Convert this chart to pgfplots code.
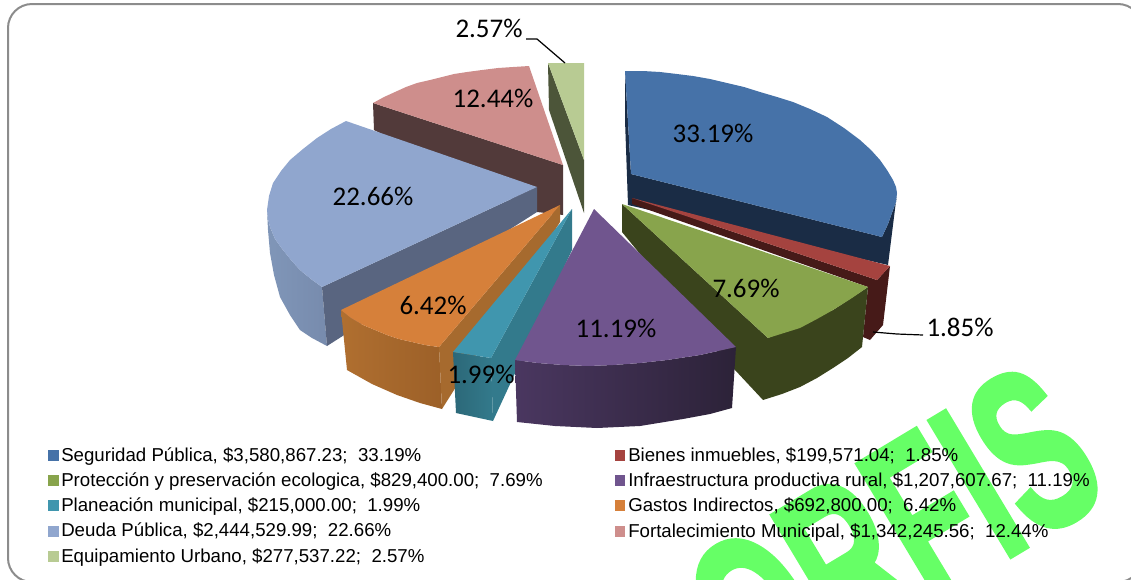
\documentclass[border=0pt]{standalone}
\usepackage{pgfplots}
\pgfplotsset{compat=1.18}
\usepackage{fontspec}
\setmainfont{Liberation Sans}
\newfontfamily\lab{Carlito}
\newfontfamily\wmfont[BoldFeatures={FakeBold=2.2}]{Liberation Sans}
\definecolor{bluetop}{HTML}{4672A8}\definecolor{blueside}{HTML}{1A2C45}
\definecolor{redtop}{HTML}{A5433F}\definecolor{redside}{HTML}{461A18}
\definecolor{greentop}{HTML}{88A44C}\definecolor{greenside}{HTML}{3A441C}
\definecolor{purtop}{HTML}{70558E}\definecolor{purl}{HTML}{4A3760}\definecolor{purr}{HTML}{2C2238}
\definecolor{tealtop}{HTML}{4096AE}\definecolor{tealside}{HTML}{337A8C}\definecolor{teall}{HTML}{2C6878}
\definecolor{ortop}{HTML}{D6803A}\definecolor{orside}{HTML}{A66A2E}\definecolor{orl}{HTML}{B06F30}\definecolor{orr}{HTML}{9C6028}
\definecolor{pertop}{HTML}{90A6CE}\definecolor{perside}{HTML}{596580}\definecolor{perl}{HTML}{8096B8}\definecolor{perr}{HTML}{778BAD}
\definecolor{pinktop}{HTML}{CE8E8C}\definecolor{pinkside}{HTML}{523A3A}
\definecolor{lgtop}{HTML}{B8CB93}\definecolor{lgside}{HTML}{4C5539}
\definecolor{wm}{HTML}{66FF66}
\newcommand{\legt}[3]{\node[font=\fontsize{14}{16}\selectfont,anchor=base west,inner sep=0pt,text=black] at (axis cs:#1,#2) {#3};}
\newcommand{\plab}[3]{\node[font=\lab\fontsize{20.2}{23}\selectfont,inner sep=0pt,text=black] at (axis cs:#1,#2) {#3};}
\begin{document}
\begin{tikzpicture}[x=1pt,y=1pt]
\useasboundingbox (0,0) rectangle (848.25pt,434.25pt);
\clip (0,0) rectangle (848.25pt,434.25pt);
\begin{axis}[at={(0,0)},anchor=south west,scale only axis,width=848.25pt,height=434.25pt,
  xmin=0,xmax=1131,ymin=0,ymax=579,y dir=reverse,axis lines=none,no marks,clip=false,
  every axis plot/.append style={draw=none,line width=0pt}]
% watermark
\node[font=\wmfont\bfseries\fontsize{172}{172}\selectfont,text=wm,rotate=31,inner sep=0pt,xscale=.6] at (axis cs:893,535) {ORFIS};
% light green slice
\addplot[fill=lgside] coordinates {(548,63)(584,160)(584,213)(549,110)} --cycle;
\addplot[fill=lgtop] coordinates {(548,63)(584,63)(584,160)} --cycle;
% pink slice
\addplot[fill=pinkside] coordinates {(373,103)(563,165)(563,215)(537,212)(374,130)} --cycle;
\addplot[fill=pinktop] coordinates {(373,103)(384,97)(395,92)(406,87)(417,83)(430,80)(442,77)(454,74)(467,72)(482,70)(498,68)(513,67)(529,66)(563,165)} --cycle;
% periwinkle slice
\addplot[left color=perl,right color=perr] coordinates {(267,210)(268,219)(270,227)(275,239)(283,250)(291,260)(300,270)(311,279)(322,287)(327,346)(312,338)(300,330)(290,315)(280,297)(274,275)(270,253)(268,230)} --cycle;
\addplot[fill=perside] coordinates {(322,287)(537,187)(537,212)(327,346)} --cycle;
\addplot[fill=pertop] coordinates {(346,121)(331,129)(317,138)(303,149)(290,160)(281,171)(273,183)(269,196)(267,210)(268,219)(270,227)(275,239)(283,250)(291,260)(300,270)(311,279)(322,287)(537,187)} --cycle;
% blue slice
\addplot[fill=blueside] coordinates {(625,71)(631,174)(882,237)(888,224)(893,210)(896,202)(897,193)(888,265)(628,205)(625,120)} --cycle;
\addplot[fill=bluetop] coordinates {(625,71)(643,71)(660,72)(677,74)(693,76)(710,79)(727,83)(744,87)(760,92)(777,97)(793,102)(810,109)(827,117)(844,128)(860,140)(871,150)(880,160)(887,170)(893,180)(896,187)(897,193)(896,202)(893,210)(888,224)(882,237)(631,174)} --cycle;
% red slice
\addplot[fill=redside] coordinates {(632,198)(877,280)(890,266)(883,325)(870,340)(863,337)(868,287)(632,204)} --cycle;
\addplot[fill=redtop] coordinates {(632,198)(890,266)(877,280)} --cycle;
% green slice
\addplot[fill=greenside] coordinates {(622,204)(768,338)(833,310)(868,287)(862,347)(848,358)(833,368)(817,378)(800,387)(782,394)(763,400)(735,370)(622,232)} --cycle;
\addplot[fill=greentop] coordinates {(622,204)(868,287)(852,298)(833,310)(817,319)(800,328)(784,333)(768,338)} --cycle;
% orange slice
\addplot[left color=orl,right color=orr] coordinates {(341,310)(351,318)(363,325)(375,330)(387,335)(399,339)(412,342)(425,345)(439,347)(442,409)(420,403)(397,395)(372,384)(347,370)} --cycle;
\addplot[fill=orside] coordinates {(560,205)(560,222)(442,409)(439,347)} --cycle;
\addplot[fill=ortop] coordinates {(560,205)(439,347)(425,345)(412,342)(399,339)(387,335)(375,330)(363,325)(351,318)(341,310)} --cycle;
% teal slice
\addplot[left color=teall,right color=tealside] coordinates {(453,352)(491,358)(493,421)(456,413)} --cycle;
\addplot[fill=tealside] coordinates {(572,209)(572,250)(493,421)(491,358)} --cycle;
\addplot[fill=tealtop] coordinates {(572,209)(491,358)(453,352)} --cycle;
% purple slice
\addplot[left color=purl,right color=purr] coordinates {(515,360)(538,363)(563,365)(588,366)(613,365)(640,363)(667,360)(700,355)(736,347)(732,408)(710,414)(683,419)(640,426)(597,428)(555,426)(517,422)} --cycle;
\addplot[fill=purtop] coordinates {(594,209)(736,347)(700,355)(667,360)(640,363)(613,365)(588,366)(563,365)(538,363)(515,360)} --cycle;
% leaders
\addplot[draw=black,line width=.9pt] coordinates {(526,39)(537,39)(565,63)};
\addplot[draw=black,line width=.9pt] coordinates {(873,332)(897,334)(923,335)};
% frame
\draw[color=black!45,line width=1.5pt,rounded corners=18pt] (axis cs:8,582)--(axis cs:8,4)--(axis cs:1142,4)--(axis cs:1142,582)--cycle;
% swatches
\addplot[fill=bluetop] coordinates {(48,450)(59,450)(59,461)(48,461)} --cycle;
\addplot[fill=greentop] coordinates {(48,475)(59,475)(59,486)(48,486)} --cycle;
\addplot[fill=tealtop] coordinates {(48,500)(59,500)(59,511)(48,511)} --cycle;
\addplot[fill=pertop] coordinates {(48,526)(59,526)(59,537)(48,537)} --cycle;
\addplot[fill=lgtop] coordinates {(48,551)(59,551)(59,562)(48,562)} --cycle;
\addplot[fill=redtop] coordinates {(615,450)(625,450)(625,461)(615,461)} --cycle;
\addplot[fill=purtop] coordinates {(615,475)(625,475)(625,486)(615,486)} --cycle;
\addplot[fill=ortop] coordinates {(615,500)(625,500)(625,511)(615,511)} --cycle;
\addplot[fill=pinktop] coordinates {(615,526)(625,526)(625,537)(615,537)} --cycle;
% legend text
\legt{61}{461}{Seguridad Pública, \$3,580,867.23;\ \ 33.19\%}
\legt{61}{486}{Protección y preservación ecologica, \$829,400.00;\ \ 7.69\%}
\legt{61}{511}{Planeación municipal, \$215,000.00;\ \ 1.99\%}
\legt{61}{536}{Deuda Pública, \$2,444,529.99;\ \ 22.66\%}
\legt{61}{562}{Equipamiento Urbano, \$277,537.22;\ \ 2.57\%}
\legt{628}{461}{Bienes inmuebles, \$199,571.04;\ \ 1.85\%}
\legt{628}{486}{Infraestructura productiva rural, \$1,207,607.67;\ \ 11.19\%}
\legt{628}{511}{Gastos Indirectos, \$692,800.00;\ \ 6.42\%}
\legt{628}{537}{Fortalecimiento Municipal, \$1,342,245.56;\ \ 12.44\%}
% data labels
\plab{713}{133}{33.19\%}
\plab{493}{98}{12.44\%}
\plab{373}{196}{22.66\%}
\plab{489}{28}{2.57\%}
\plab{746}{288}{7.69\%}
\plab{960}{327}{1.85\%}
\plab{616}{328}{11.19\%}
\plab{433}{305}{6.42\%}
\plab{481}{374}{1.99\%}
\end{axis}
\end{tikzpicture}
\end{document}
